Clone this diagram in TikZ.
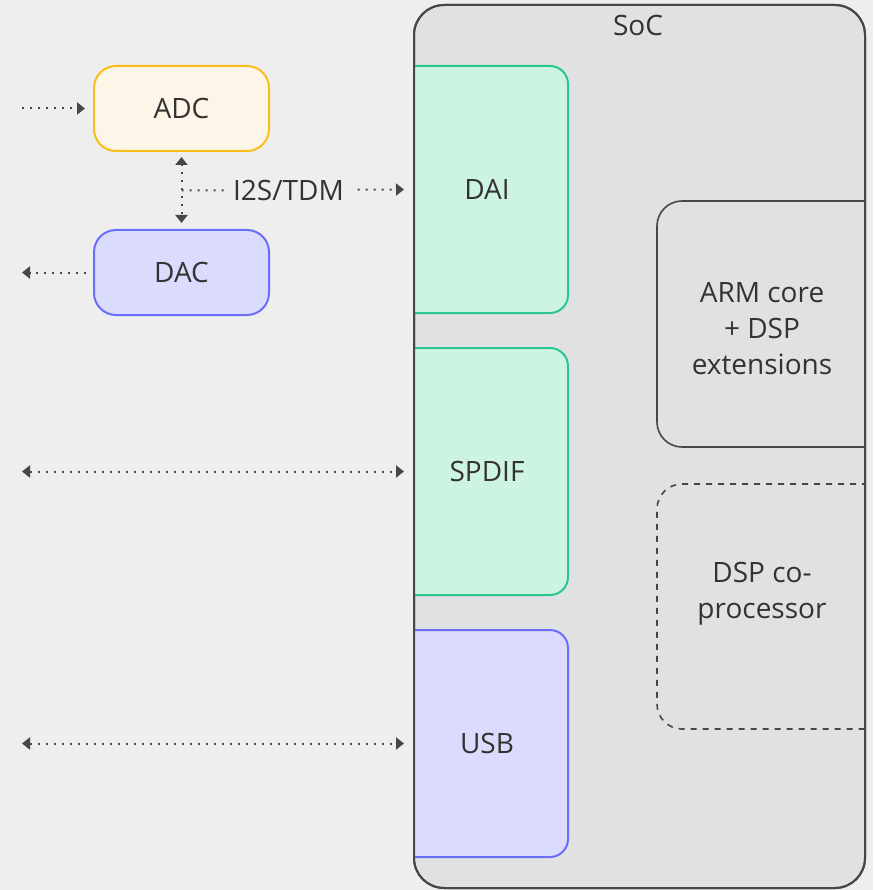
\documentclass[tikz,border=0pt]{standalone}
\usepackage{fontspec}
\setmainfont{Open Sans}
\usetikzlibrary{arrows.meta,calc}

\definecolor{bgcol}{HTML}{EEEEEE}
\definecolor{socfill}{HTML}{E0E1E3}
\definecolor{socline}{HTML}{474747}
\definecolor{txtcol}{HTML}{333333}
\definecolor{greenfill}{HTML}{CDF4E3}
\definecolor{greenline}{HTML}{2CC78E}
\definecolor{bluefill}{HTML}{DBDCFD}
\definecolor{blueline}{HTML}{6B6EF9}
\definecolor{yellowfill}{HTML}{FDF6E8}
\definecolor{yellowline}{HTML}{FBBD1A}

\tikzset{
  txt/.style={text=txtcol, font=\fontsize{28}{36}\selectfont, align=center, inner sep=0pt},
  box/.style={draw, line width=2pt, inner sep=0pt, outer sep=0pt},
  greenbox/.style={box, rounded corners=18pt, fill=greenfill, draw=greenline},
  bluebox/.style={box, rounded corners=18pt, fill=bluefill, draw=blueline},
  yellowbox/.style={box, rounded corners=22pt, fill=yellowfill, draw=yellowline},
  corebox/.style={box, rounded corners=25pt, fill=socfill, draw=socline},
  socbox/.style={draw=socline, fill=socfill, line width=2pt, rounded corners=30pt,
    minimum width=451pt, minimum height=883pt, inner sep=0pt, outer sep=0pt},
  link/.style={draw=socline, line width=2pt, dash pattern=on 2pt off 6pt,
    -{Triangle[length=8pt,width=12pt]}},
  tips2/.style={{Triangle[length=8pt,width=12pt]}-{Triangle[length=8pt,width=12pt]}}
}

\begin{document}
\begin{tikzpicture}[x=1pt,y=-1pt]

  \fill[bgcol] (0,0) rectangle (873,890);
  \useasboundingbox (0,0) rectangle (873,890);

  \node[socbox] (soc) at (639.5,446.5) {};
  \node[txt] (soclbl) at (638,26) {SoC};

  \begin{scope}
    \clip[rounded corners=30pt] (soc.north west) rectangle (soc.south east);
    \begin{scope}[every label/.style={txt}]
      \node[greenbox, minimum width=174pt, minimum height=247pt,
        label={[xshift=6pt]center:DAI}] (dai) at (481,189.5) {};
      \node[greenbox, minimum width=174pt, minimum height=247pt,
        label={[xshift=6pt]center:SPDIF}] (spdif) at (481,471.5) {};
      \node[bluebox, minimum width=174pt, minimum height=227pt,
        label={[xshift=6pt]center:USB}] (usb) at (481,743.5) {};
      \node[corebox, line width=1.6pt, minimum width=248pt, minimum height=246pt,
        label={[xshift=-19pt,yshift=-5pt]center:ARM core\\+ DSP\\extensions}] (arm) at (781,324) {};
      \node[corebox, line width=1.6pt, dash pattern=on 6pt off 6pt, minimum width=248pt, minimum height=245pt,
        label={[xshift=-19pt,yshift=13pt]center:DSP co-\\processor}] (dsp) at (781,606.5) {};
    \end{scope}
  \end{scope}

  \draw[draw=socline, line width=2pt, rounded corners=30pt] (soc.north west) rectangle (soc.south east);

  \begin{scope}[every node/.style={txt}]
    \node[yellowbox, minimum width=175pt, minimum height=85pt] (adc) at (181.5,108.5) {ADC};
    \node[bluebox, rounded corners=22pt, minimum width=175pt, minimum height=85pt] (dac) at (181.5,272.5) {DAC};
  \end{scope}

  \coordinate (adcin) at (22,108.5);
  \coordinate (dacout) at (22,272.5);
  \coordinate (spdifext) at (22,471.5);
  \coordinate (usbext) at (22,743.5);
  \coordinate (bus) at ($(adc.south)!0.5!(dac.north)$);

  \draw[link, shorten >=9pt] (adcin) -- (adc.west);
  \draw[link, shorten <=8pt] (dac.west) -- (dacout);
  \draw[link, tips2, shorten <=6pt, shorten >=7pt] (adc.south) -- (dac.north);
  \draw[link, shorten >=10pt] (bus) -- node[pos=0.46, txt, fill=bgcol, inner xsep=9pt, inner ysep=4pt] {I2S/TDM} (soc.west |- dai);
  \draw[link, tips2, shorten >=10pt] (spdifext) -- (soc.west |- spdif);
  \draw[link, tips2, shorten >=10pt] (usbext) -- (soc.west |- usb);

\end{tikzpicture}
\end{document}
